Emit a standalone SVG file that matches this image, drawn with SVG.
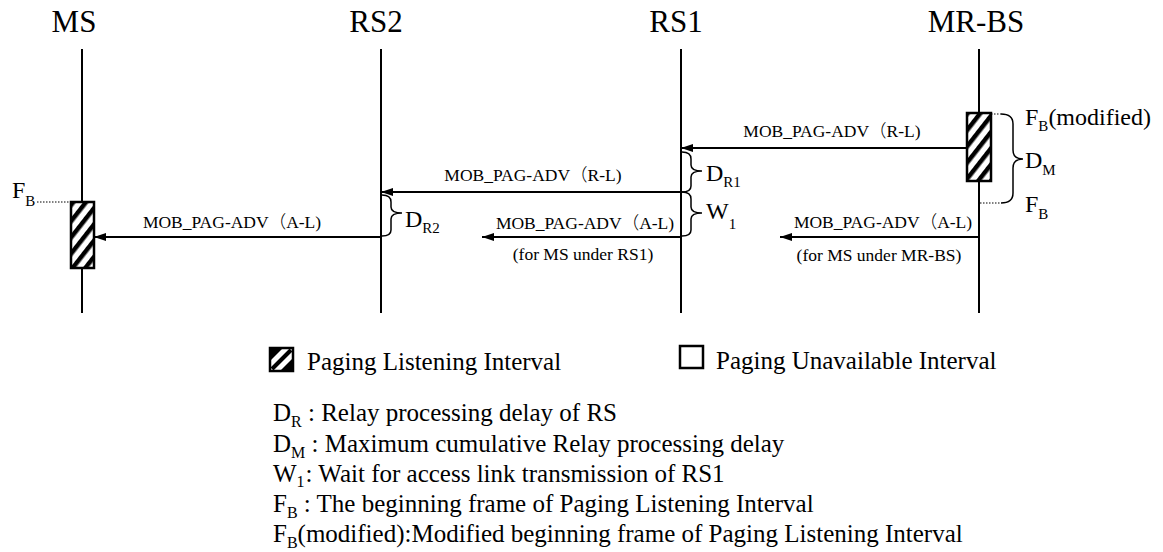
<svg xmlns="http://www.w3.org/2000/svg" width="1163" height="552" viewBox="0 0 1163 552">
<style>
text{font-family:"Liberation Serif","Times New Roman","DejaVu Serif",serif;fill:#000}
.cjk{font-family:"Noto Sans CJK JP","Noto Sans CJK SC",sans-serif;font-weight:300}
.hdr{font-size:31px;text-anchor:middle}
.msg{font-size:17.5px;text-anchor:middle}
.lbl{font-size:24px}
.sub{font-size:15px}
.leg{font-size:25px}
.dsub{font-size:16px}
.life{stroke:#000;stroke-width:2;fill:none}
.arr{stroke:#000;stroke-width:1.8;fill:none;marker-end:url(#ah)}
.brace{stroke:#000;stroke-width:1.5;fill:none}
.dot{stroke:#000;stroke-width:1;stroke-dasharray:1.5 1.5;fill:none}
.box{fill:url(#hatch);stroke:#000;stroke-width:2.5}
</style>
<defs>
<marker id="ah" markerUnits="userSpaceOnUse" markerWidth="12" markerHeight="8" refX="12" refY="4" orient="auto">
<path d="M0,0 L12,4 L0,8 z" fill="#000"/>
</marker>
<pattern id="hatch" patternUnits="userSpaceOnUse" width="10" height="10" patternTransform="rotate(38)">
<rect x="0" y="0" width="10" height="10" fill="#fff"/>
<rect x="0" y="0" width="4.5" height="10" fill="#000"/>
</pattern>
</defs>

<g id="lifelines">
<g id="node-ms"><text class="hdr" x="74" y="32">MS</text><line class="life" x1="82" y1="49" x2="82" y2="313"/></g>
<g id="node-rs2"><text class="hdr" x="376" y="32">RS2</text><line class="life" x1="381" y1="49" x2="381" y2="313"/></g>
<g id="node-rs1"><text class="hdr" x="676" y="32">RS1</text><line class="life" x1="681" y1="49" x2="681" y2="313"/></g>
<g id="node-mrbs"><text class="hdr" x="976" y="32">MR-BS</text><line class="life" x1="979" y1="49" x2="979" y2="313"/></g>
</g>

<g id="intervals">
<g id="interval-mrbs"><rect class="box" x="967" y="113" width="24" height="68"/></g>
<g id="interval-ms"><rect class="box" x="71" y="202" width="23" height="66"/></g>
</g>

<g id="connectors">
<line class="arr" x1="967" y1="148" x2="681" y2="148"/>
<line class="arr" x1="681" y1="192" x2="381" y2="192"/>
<line class="arr" x1="681" y1="237" x2="482" y2="237"/>
<line class="arr" x1="979" y1="237" x2="780" y2="237"/>
<line class="arr" x1="381" y1="237" x2="94" y2="237"/>
<path class="dot" d="M991,114 H1001"/>
<path class="dot" d="M980,203 H1001"/>
<path class="dot" d="M37,202 H71"/>
<path class="brace" d="M1001,114 Q1013,114 1013,124 L1013,150 Q1013,159 1023,159 Q1013,159 1013,168 L1013,193 Q1013,203 1001,203"/>
<path class="brace" d="M682,152 Q691,152 691,159 L691,165 Q691,171 702,171 Q691,171 691,177 L691,186 Q691,192 682,192"/>
<path class="brace" d="M682,192 Q691,192 691,199 L691,207 Q691,213 702,213 Q691,213 691,219 L691,230 Q691,236 682,236"/>
<path class="brace" d="M382,195 Q391,195 391,202 L391,207 Q391,213 402,213 Q391,213 391,219 L391,230 Q391,236 382,236"/>
</g>

<g id="labels">
<text class="msg" x="832" y="137">MOB_PAG-ADV<tspan class="cjk">（</tspan>R-L)</text>
<text class="msg" x="533" y="181">MOB_PAG-ADV<tspan class="cjk">（</tspan>R-L)</text>
<text class="msg" x="585" y="229">MOB_PAG-ADV<tspan class="cjk">（</tspan>A-L)</text>
<text class="msg" x="583" y="260">(for MS under RS1)</text>
<text class="msg" x="883" y="228">MOB_PAG-ADV<tspan class="cjk">（</tspan>A-L)</text>
<text class="msg" x="879" y="261">(for MS under MR-BS)</text>
<text class="msg" x="232" y="228">MOB_PAG-ADV<tspan class="cjk">（</tspan>A-L)</text>
<text class="lbl" x="1025" y="125">F<tspan class="sub" y="131">B</tspan><tspan y="125">(modified)</tspan></text>
<text class="lbl" x="1025" y="168">D<tspan class="sub" y="175">M</tspan></text>
<text class="lbl" x="1025" y="212">F<tspan class="sub" y="219">B</tspan></text>
<text class="lbl" x="706" y="181">D<tspan class="sub" y="187">R1</tspan></text>
<text class="lbl" x="706" y="219">W<tspan class="sub" y="229">1</tspan></text>
<text class="lbl" x="405" y="227">D<tspan class="sub" y="233">R2</tspan></text>
<text class="lbl" x="12" y="198">F<tspan class="sub" y="206">B</tspan></text>
</g>

<g id="legend">
<g id="legend-listening">
<rect x="270" y="348" width="23" height="23" fill="#fff" stroke="#000" stroke-width="2.5"/>
<polygon points="270,348 283,348 270,361" fill="#000"/>
<polygon points="293,371 280,371 293,358" fill="#000"/>
<line x1="272" y1="369" x2="291" y2="350" stroke="#000" stroke-width="4"/>
<text class="leg" x="307" y="370">Paging Listening Interval</text>
</g>
<g id="legend-unavailable">
<rect x="680" y="346" width="23" height="22" fill="#fff" stroke="#000" stroke-width="2.5"/>
<text class="leg" x="716" y="369">Paging Unavailable Interval</text>
</g>
<text class="leg" x="273" y="421">D<tspan class="dsub" y="427">R</tspan><tspan y="421"> : Relay processing delay of RS</tspan></text>
<text class="leg" x="273" y="452">D<tspan class="dsub" y="458">M</tspan><tspan y="452"> : Maximum cumulative Relay processing delay</tspan></text>
<text class="leg" x="273" y="482">W<tspan class="dsub" y="487">1</tspan><tspan y="482" dx="1">: Wait for access link transmission of RS1</tspan></text>
<text class="leg" x="273" y="512">F<tspan class="dsub" y="518">B</tspan><tspan y="512"> : The beginning frame of Paging Listening Interval</tspan></text>
<text class="leg" x="273" y="542">F<tspan class="dsub" y="548">B</tspan><tspan y="542">(modified):Modified beginning frame of Paging Listening Interval</tspan></text>
</g>
</svg>
